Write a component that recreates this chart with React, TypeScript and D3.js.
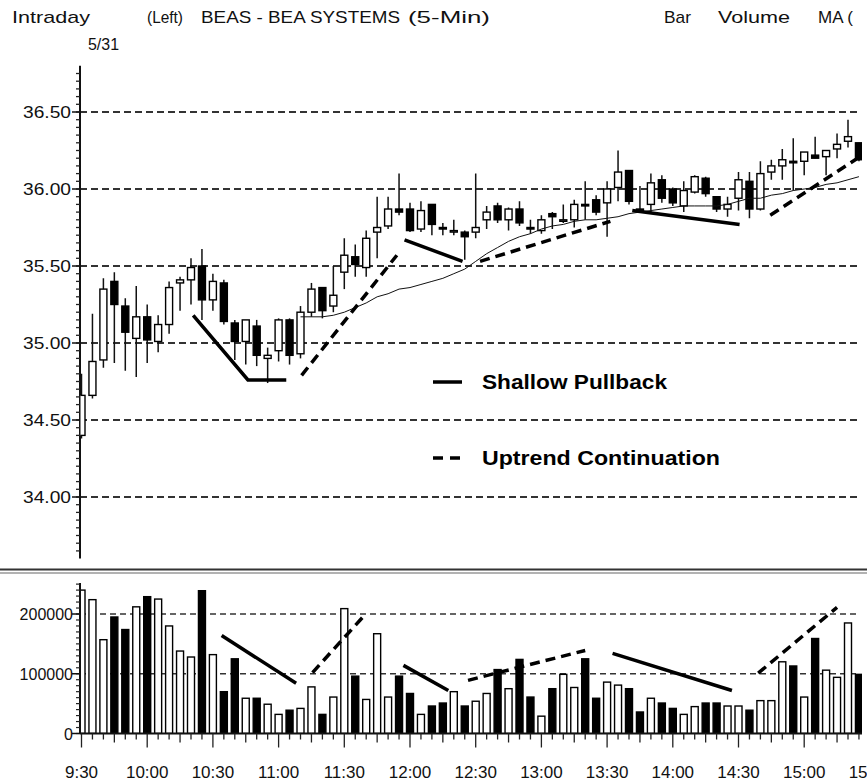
import React from 'react';
import * as d3 from 'd3';

// 5-min bars, BEAS 5/31, 9:30 onward
const opens = [34.40, 34.66, 34.89, 35.40, 35.24, 35.03, 35.17, 35.01, 35.12, 35.39, 35.41, 35.50, 35.28, 35.39, 35.13, 35.01, 35.11, 34.90, 34.95, 35.15,
  34.93, 35.20, 35.36, 35.24, 35.46, 35.56, 35.49, 35.72, 35.76, 35.87, 35.87, 35.74, 35.90, 35.75, 35.73, 35.72, 35.72, 35.80, 35.89, 35.80,
  35.87, 35.75, 35.73, 35.84, 35.80, 35.80, 35.90, 35.93, 35.91, 36.01, 36.12, 35.87, 35.90, 36.06, 36.00, 35.89, 35.98, 36.07, 35.95, 35.87,
  35.94, 36.05, 35.87, 36.11, 36.15, 36.18, 36.18, 36.22, 36.21, 36.26, 36.31, 36.30];
const highs = [34.80, 35.19, 35.42, 35.46, 35.29, 35.37, 35.25, 35.18, 35.40, 35.43, 35.55, 35.61, 35.45, 35.41, 35.15, 35.15, 35.15, 34.97, 35.16, 35.16,
  35.24, 35.39, 35.36, 35.50, 35.68, 35.64, 35.73, 35.95, 35.95, 36.10, 35.91, 35.92, 35.90, 35.78, 35.80, 35.73, 36.10, 35.89, 35.91, 35.88,
  35.92, 35.80, 35.83, 35.85, 35.90, 35.93, 36.05, 35.96, 36.05, 36.25, 36.12, 36.02, 36.10, 36.09, 36.01, 36.05, 36.09, 36.08, 35.95, 35.95,
  36.11, 36.11, 36.18, 36.19, 36.26, 36.33, 36.24, 36.34, 36.25, 36.36, 36.45, 36.30];
const lows = [34.38, 34.64, 34.84, 34.87, 34.82, 34.78, 34.87, 34.94, 35.06, 35.21, 35.25, 35.15, 35.21, 35.12, 34.89, 34.86, 34.85, 34.74, 34.88, 34.86,
  34.90, 35.17, 35.16, 35.20, 35.35, 35.43, 35.43, 35.55, 35.74, 35.83, 35.72, 35.72, 35.70, 35.70, 35.70, 35.54, 35.68, 35.74, 35.78, 35.73,
  35.76, 35.71, 35.71, 35.74, 35.78, 35.75, 35.80, 35.83, 35.69, 35.92, 35.90, 35.85, 35.85, 35.91, 35.89, 35.85, 35.97, 35.95, 35.85, 35.82,
  35.86, 35.81, 35.86, 36.06, 36.06, 35.99, 36.09, 36.20, 36.09, 36.20, 36.27, 36.18];
const closes = [34.66, 34.88, 35.35, 35.25, 35.07, 35.17, 35.02, 35.12, 35.36, 35.41, 35.49, 35.28, 35.40, 35.14, 35.01, 35.15, 34.92, 34.92, 35.15, 34.92,
  35.20, 35.35, 35.21, 35.31, 35.57, 35.51, 35.68, 35.75, 35.87, 35.85, 35.73, 35.86, 35.77, 35.74, 35.73, 35.69, 35.75, 35.85, 35.80, 35.87,
  35.78, 35.74, 35.80, 35.82, 35.80, 35.90, 35.89, 35.85, 36.00, 36.11, 35.92, 35.86, 36.04, 35.94, 35.91, 35.99, 36.08, 35.97, 35.87, 35.90,
  36.06, 35.87, 36.10, 36.15, 36.19, 36.17, 36.24, 36.20, 36.25, 36.29, 36.34, 36.19];
const volumes = [240000, 224000, 157000, 195000, 174000, 212000, 229000, 225000, 180000, 138000, 128000, 239000, 132000, 70000, 125000, 59000, 59000, 49000, 32000, 39000,
  42000, 78000, 32000, 61000, 209000, 96000, 57000, 167000, 61000, 96000, 67000, 32000, 46000, 51000, 70000, 46000, 54000, 67000, 107000, 75000,
  124000, 61000, 29000, 75000, 99000, 77000, 125000, 59000, 86000, 81000, 75000, 36000, 59000, 51000, 42000, 32000, 45000, 51000, 51000, 46000,
  46000, 39000, 55000, 55000, 120000, 113000, 61000, 159000, 106000, 94000, 185000, 99000];
// moving average, starts at bar 20
const maStart = 20;
const maValues = [35.17, 35.17, 35.17, 35.18, 35.20, 35.23, 35.26, 35.30, 35.32, 35.35, 35.36, 35.38, 35.40, 35.42, 35.45, 35.48, 35.53, 35.58, 35.62, 35.66,
  35.69, 35.71, 35.74, 35.76, 35.77, 35.79, 35.80, 35.80, 35.81, 35.82, 35.84, 35.85, 35.86, 35.87, 35.88, 35.89, 35.89, 35.89, 35.89, 35.90,
  35.92, 35.94, 35.94, 35.96, 35.97, 35.99, 36.00, 36.01, 36.03, 36.04, 36.06, 36.08];

const priceLabels = [34.0, 34.5, 35.0, 35.5, 36.0, 36.5];
const volLabels = [0, 100000, 200000];
const timeLabels = ['9:30', '10:00', '10:30', '11:00', '11:30', '12:00', '12:30', '13:00', '13:30', '14:00', '14:30', '15:00', '15:30'];

// drawn annotations: [bar, value] pairs
const pricePullbacks = [
  [[10.2, 35.18], [15.2, 34.76], [18.7, 34.76]],
  [[29.5, 35.67], [34.8, 35.53]],
  [[50.3, 35.86], [60.1, 35.77]],
];
const priceUptrends = [
  [[20.1, 34.79], [28.8, 35.57]],
  [[36.4, 35.53], [48.3, 35.79]],
  [[62.9, 35.83], [71.1, 36.21]],
];
const volPullbacks = [
  [[12.8, 164000], [19.6, 84000]],
  [[29.4, 114000], [33.5, 72000]],
  [[48.5, 134000], [59.4, 72000]],
];
const volUptrends = [
  [[21.1, 102000], [25.9, 199000]],
  [[35.3, 89000], [46.0, 139000]],
  [[61.8, 101000], [69.0, 211000]],
];

const FONT = '"Liberation Sans", Arial, sans-serif';
const SG = 'spacingAndGlyphs';

const App = () => {
  const width = 867, height = 784;
  const x = d3.scaleLinear().domain([0, 72]).range([81.5, 81.5 + 72 * 10.95]);
  const y = d3.scaleLinear().domain([34, 36.5]).range([497, 112]);
  const yv = d3.scaleLinear().domain([0, 200000]).range([733.5, 614]);
  const bodyW = 7;

  const priceLine = d3.line().x(d => x(d[0])).y(d => y(d[1]));
  const volLine = d3.line().x(d => x(d[0])).y(d => yv(d[1]));
  const maLine = d3.line().x((d, i) => x(maStart + i)).y(d => y(d));

  const priceMinor = d3.range(33.65, 36.8, 0.05);
  const volMinor = d3.range(0, 250001, 10000);
  const plotRight = 862;

  return (
    <svg width={width} height={height} style={{ position: 'absolute', left: 0, top: 0, background: '#fff' }}
      fontFamily={FONT}>
      <defs>
        <clipPath id="pclip"><rect x={80.5} y={60} width={plotRight - 80.5} height={505} /></clipPath>
        <clipPath id="vclip"><rect x={80.5} y={576} width={plotRight - 80.5} height={158} /></clipPath>
      </defs>
      <rect width={width} height={height} fill="#fff" />

      {/* header */}
      <g fontSize={17} fill="#111">
        <text x={12} y={23} textLength={78} lengthAdjust={SG}>Intraday</text>
        <text x={147} y={23} textLength={36} lengthAdjust={SG}>(Left)</text>
        <text x={201} y={23} textLength={199} lengthAdjust={SG}>BEAS - BEA SYSTEMS</text>
        <text x={408} y={23} textLength={82} lengthAdjust={SG}>(5-Min)</text>
        <text x={664} y={23} textLength={27} lengthAdjust={SG}>Bar</text>
        <text x={718} y={23} textLength={72} lengthAdjust={SG}>Volume</text>
        <text x={818} y={23}>MA (</text>
        <text x={88} y={50} textLength={31} lengthAdjust={SG}>5/31</text>
      </g>

      {/* price grid */}
      {priceLabels.map(p => (
        <line key={p} x1={80} x2={plotRight - 2} y1={y(p)} y2={y(p)} stroke="#333" strokeWidth={2} strokeDasharray="7,4" />
      ))}

      {/* price axis */}
      <line x1={80} x2={80} y1={y(36.8)} y2={y(33.6)} stroke="#111" strokeWidth={2} />
      {priceMinor.map((p, i) => (
        <line key={i} x1={76} x2={80} y1={y(p)} y2={y(p)} stroke="#222" strokeWidth={1.3} />
      ))}
      {priceLabels.map(p => (
        <g key={p}>
          <line x1={72} x2={80} y1={y(p)} y2={y(p)} stroke="#111" strokeWidth={1.5} />
          <text x={23} y={y(p) + 6} fontSize={17} fill="#111" textLength={48} lengthAdjust={SG}>{p.toFixed(2)}</text>
        </g>
      ))}

      {/* candles */}
      <g clipPath="url(#pclip)">
        {opens.map((o, i) => {
          const c = closes[i];
          const up = c >= o;
          const top = y(Math.max(o, c)), bot = y(Math.min(o, c));
          return (
            <g key={i}>
              <line x1={x(i)} x2={x(i)} y1={y(highs[i])} y2={y(lows[i])} stroke="#111" strokeWidth={1.5} />
              <rect x={x(i) - bodyW / 2} y={top} width={bodyW} height={Math.max(bot - top, 1.5)}
                fill={up ? '#fff' : '#000'} stroke="#000" strokeWidth={1.4} />
            </g>
          );
        })}
        <path d={maLine(maValues)} fill="none" stroke="#111" strokeWidth={1} />
        {pricePullbacks.map((seg, i) => (
          <path key={'pp' + i} d={priceLine(seg)} fill="none" stroke="#000" strokeWidth={3.5} />
        ))}
        {priceUptrends.map((seg, i) => (
          <path key={'pu' + i} d={priceLine(seg)} fill="none" stroke="#000" strokeWidth={3.5} strokeDasharray="10,6" />
        ))}
      </g>

      {/* legend */}
      <line x1={433} x2={462} y1={382} y2={382} stroke="#000" strokeWidth={3.5} />
      <text x={482} y={389} fontSize={20} fontWeight="bold" textLength={185} lengthAdjust={SG}>Shallow Pullback</text>
      <line x1={433} x2={443} y1={458} y2={458} stroke="#000" strokeWidth={3.5} />
      <line x1={450} x2={460} y1={458} y2={458} stroke="#000" strokeWidth={3.5} />
      <text x={482} y={465} fontSize={20} fontWeight="bold" textLength={238} lengthAdjust={SG}>Uptrend Continuation</text>

      {/* separator */}
      <line x1={0} x2={width} y1={569.5} y2={569.5} stroke="#333" strokeWidth={2} />
      <line x1={0} x2={width} y1={573} y2={573} stroke="#999" strokeWidth={1.5} />

      {/* volume grid */}
      {volLabels.filter(v => v > 0).map(v => (
        <line key={v} x1={80} x2={plotRight - 2} y1={yv(v)} y2={yv(v)} stroke="#333" strokeWidth={1.5} strokeDasharray="6,4" />
      ))}

      {/* volume bars */}
      <g clipPath="url(#vclip)">
        {volumes.map((v, i) => (
          <rect key={i} x={x(i) - bodyW / 2} y={yv(v)} width={bodyW} height={yv(0) - yv(v)}
            fill={closes[i] < opens[i] ? '#000' : '#fff'} stroke="#000" strokeWidth={1.4} />
        ))}
        {volPullbacks.map((seg, i) => (
          <path key={'vp' + i} d={volLine(seg)} fill="none" stroke="#000" strokeWidth={3.5} />
        ))}
        {volUptrends.map((seg, i) => (
          <path key={'vu' + i} d={volLine(seg)} fill="none" stroke="#000" strokeWidth={3.5} strokeDasharray="10,6" />
        ))}
      </g>

      {/* volume axis */}
      <line x1={80} x2={80} y1={yv(252000)} y2={yv(0)} stroke="#111" strokeWidth={2} />
      {volMinor.map((v, i) => (
        <line key={i} x1={76} x2={80} y1={yv(v)} y2={yv(v)} stroke="#222" strokeWidth={1.2} />
      ))}
      {volLabels.map(v => (
        <g key={v}>
          <line x1={72} x2={80} y1={yv(v)} y2={yv(v)} stroke="#111" strokeWidth={1.5} />
          <text x={73} y={yv(v) + 6} textAnchor="end" fontSize={16} fill="#111">{v}</text>
        </g>
      ))}

      {/* time axis */}
      <line x1={80} x2={plotRight} y1={yv(0)} y2={yv(0)} stroke="#111" strokeWidth={2} />
      {d3.range(0, 72).map(i => (
        <line key={i} x1={x(i)} x2={x(i)} y1={yv(0)} y2={yv(0) + (i % 6 === 0 ? 14 : i % 3 === 0 ? 9 : 6)}
          stroke="#222" strokeWidth={1.3} />
      ))}
      {timeLabels.map((t, k) => (
        <text key={t} x={x(k * 6)} y={778} textAnchor="middle" fontSize={17} fill="#111">{t}</text>
      ))}
    </svg>
  );
};

export default App;
